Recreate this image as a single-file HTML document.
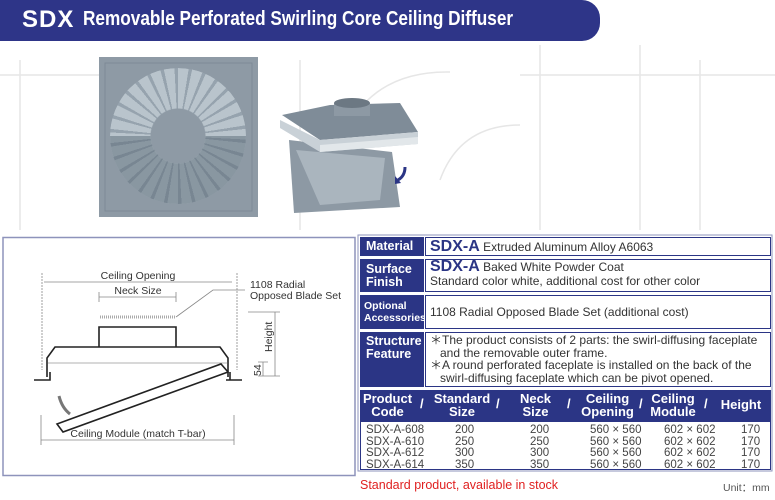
<!DOCTYPE html>
<html><head><meta charset="utf-8"><style>
body{margin:0;width:775px;height:500px;background:#fff;position:relative;overflow:hidden;font-family:"Liberation Sans",Arial,sans-serif;}
.a{position:absolute}
.hdr{left:0;top:0;width:600px;height:41px;background:#2e3588;border-radius:0 18px 18px 0;color:#fff;}
.lbl{position:absolute;left:360px;width:64px;background:#2b3585;color:#fff;font-weight:bold;font-size:12.5px;line-height:13px;padding-left:6px;box-sizing:border-box}
.cnt{position:absolute;left:425px;width:346px;background:#fff;border:1px solid #2b3585;box-sizing:border-box;font-size:12px;color:#333;padding-left:4px}
.b{color:#2b3585;font-weight:bold;font-size:16px}
.th{position:absolute;top:390px;color:#fff;font-weight:bold;font-size:13px;line-height:13px;text-align:center}
.td{position:absolute;font-size:11.5px;color:#444;line-height:11.5px}
</style></head><body>
<div class="a hdr"><span class="a" style="left:22px;top:6px;font-size:24px;font-weight:bold;letter-spacing:1px">SDX</span><span class="a" style="left:83px;top:8px;font-size:20px;font-weight:bold;transform:scaleX(0.86);transform-origin:0 0;white-space:nowrap">Removable Perforated Swirling Core Ceiling Diffuser</span></div>

<svg class="a" style="left:0;top:0" width="775" height="500">
<g fill="none" stroke="#e6e6e6" stroke-width="1.5">
<path d="M0 75 L100 75 M520 75 L775 75 M20 230 L20 60 M300 60 L300 230 M540 45 L540 230 M640 45 L640 230 M700 60 L700 230"/>
<path d="M330 180 Q350 70 450 72 M440 180 Q460 125 520 125"/>
</g>
<rect x="99" y="57" width="159" height="160" fill="#8e9aa5"/>
<rect x="105" y="63" width="147" height="148" fill="none" stroke="#7d8a96" stroke-width="1"/>
</svg>
<div class="a" style="left:110px;top:68px;width:136px;height:136px;border-radius:50%;background:repeating-conic-gradient(from 0deg,#b9c4cc 0deg 9deg,#96a3ae 9deg 12deg);-webkit-mask:radial-gradient(circle,transparent 27px,#000 28px);mask:radial-gradient(circle,transparent 27px,#000 28px)"></div>
<div class="a" style="left:110px;top:136px;width:136px;height:68px;border-radius:0 0 68px 68px;background:rgba(90,105,118,.5);-webkit-mask:radial-gradient(circle at 50% 0,transparent 27px,#000 28px);mask:radial-gradient(circle at 50% 0,transparent 27px,#000 28px)"></div>

<svg class="a" style="left:0;top:0" width="775" height="500">
<!-- 3D unit -->
<polygon points="289,140 392,152 400,207 294,213" fill="#8d99a4"/>
<polygon points="296,150 385,158 380,200 320,205" fill="#aab5be"/>
<polygon points="282,115 330,105 400,103 418,132 320,140" fill="#7f8c98"/>
<polygon points="280,120 320,140 418,132 418,144 320,152 280,128" fill="#c9d1d7"/>
<polygon points="320,145 418,137 418,144 320,152" fill="#e2e7ea"/>
<rect x="334" y="103" width="36" height="13" fill="#8d99a4"/>
<ellipse cx="352" cy="103" rx="18" ry="5" fill="#6c7883"/>
<path d="M405 167 Q405 176 398 180" stroke="#2b3585" stroke-width="3" fill="none"/>
<polygon points="395,176 401,183 395,184" fill="#2b3585"/>

<rect x="3" y="237.5" width="352" height="238" fill="#fff" stroke="#8e93bb" stroke-width="1.5"/>
<g stroke="#888" stroke-width="0.8" fill="none">
<path d="M42 273 V370 M237 273 V370" stroke-dasharray="2,1"/>
<path d="M44 282 H232 M99 297 H176 M99 292 V302 M176 292 V302"/>
<path d="M176 317 L213 290 H245"/>
<path d="M41 415 V445 M234 415 V445 M41 440 H234"/>
<path d="M248 312 H280 M275 312 V376 M258 376 H280 M258 362 H268 M263 362 V376"/>
</g>
<path d="M100 317 H175" stroke="#aaa" stroke-width="3" stroke-dasharray="1,1"/>
<g stroke="#222" stroke-width="1.6" fill="none">
<path d="M99 347 V327 H176 V347"/>
<path d="M47 377 V358 L55 347 H220 L228 358 V377"/>
<path d="M34 380 H50 V372 M226 380 H242 M230 380 V372"/>
<path d="M48 363 H228" stroke-width="0.6" stroke="#666"/>
<path d="M57 424 L221 364 L228 372 L63 432 Z"/>
</g>
<path d="M59 396 Q62 408 70 414" stroke="#777" stroke-width="3" fill="none"/>
<g font-size="10.5" fill="#333" font-family="Liberation Sans,Arial,sans-serif">
<text x="138" y="279" text-anchor="middle">Ceiling Opening</text>
<text x="138" y="294" text-anchor="middle">Neck Size</text>
<text x="250" y="288">1108 Radial</text>
<text x="250" y="299">Opposed Blade Set</text>
<text x="138" y="437" text-anchor="middle">Ceiling Module (match T-bar)</text>
<text transform="translate(272,352) rotate(-90)">Height</text>
<text transform="translate(261,376) rotate(-90)">54</text>
</g>
<rect x="358" y="235" width="414" height="236" fill="none" stroke="#8e93bb" stroke-width="1"/>
</svg>

<div class="lbl" style="top:237px;height:19px;line-height:19px">Material</div>
<div class="cnt" style="top:237px;height:19px;line-height:17px"><span class="b">SDX-A</span> Extruded Aluminum Alloy A6063</div>
<div class="lbl" style="top:259px;height:33px;padding-top:4px">Surface<br>Finish</div>
<div class="cnt" style="top:259px;height:33px;line-height:14px"><span class="b">SDX-A</span> Baked White Powder Coat<br>Standard color white, additional cost for other color</div>
<div class="lbl" style="top:295px;height:34px;padding-top:5px;font-size:10.5px;line-height:12px;padding-left:4px">Optional<br>Accessories</div>
<div class="cnt" style="top:295px;height:34px;line-height:32px">1108 Radial Opposed Blade Set (additional cost)</div>
<div class="lbl" style="top:332px;height:55px;padding-top:3px">Structure<br>Feature</div>
<div class="cnt" style="top:332px;height:55px;line-height:12.5px;padding-top:1px">＊The product consists of 2 parts: the swirl-diffusing faceplate<br>&nbsp;&nbsp;&nbsp;and the removable outer frame.<br>＊A round perforated faceplate is installed on the back of the<br>&nbsp;&nbsp;&nbsp;swirl-diffusing faceplate which can be pivot opened.</div>

<div class="a" style="left:360px;top:390px;width:411px;height:32px;background:#2b3585"></div>
<div class="th" style="left:360px;width:55px;top:392px">Product<br>Code</div>
<div class="th" style="left:420px;top:397px">/</div>
<div class="th" style="left:432px;width:60px;top:392px">Standard<br>Size</div>
<div class="th" style="left:496px;top:397px">/</div>
<div class="th" style="left:508px;width:55px;top:392px">Neck<br>Size</div>
<div class="th" style="left:567px;top:397px">/</div>
<div class="th" style="left:580px;width:55px;top:392px">Ceiling<br>Opening</div>
<div class="th" style="left:639px;top:397px">/</div>
<div class="th" style="left:648px;width:50px;top:392px">Ceiling<br>Module</div>
<div class="th" style="left:704px;top:397px">/</div>
<div class="th" style="left:716px;width:50px;top:398px">Height</div>
<div class="a" style="left:360px;top:422px;width:411px;height:48px;border:1px solid #2b3585;border-top:none;box-sizing:border-box"></div>
<div class="td" style="left:366px;top:425px">SDX-A-608<br>SDX-A-610<br>SDX-A-612<br>SDX-A-614</div>
<div class="td" style="left:455px;top:425px">200<br>250<br>300<br>350</div>
<div class="td" style="left:530px;top:425px">200<br>250<br>300<br>350</div>
<div class="td" style="left:590px;top:425px">560 × 560<br>560 × 560<br>560 × 560<br>560 × 560</div>
<div class="td" style="left:664px;top:425px">602 × 602<br>602 × 602<br>602 × 602<br>602 × 602</div>
<div class="td" style="left:741px;top:425px">170<br>170<br>170<br>170</div>
<div class="a" style="left:360px;top:478px;color:#e02020;font-size:12.5px">Standard product, available in stock</div>
<div class="a" style="left:723px;top:480px;color:#555;font-size:10.5px">Unit：mm</div>
</body></html>
